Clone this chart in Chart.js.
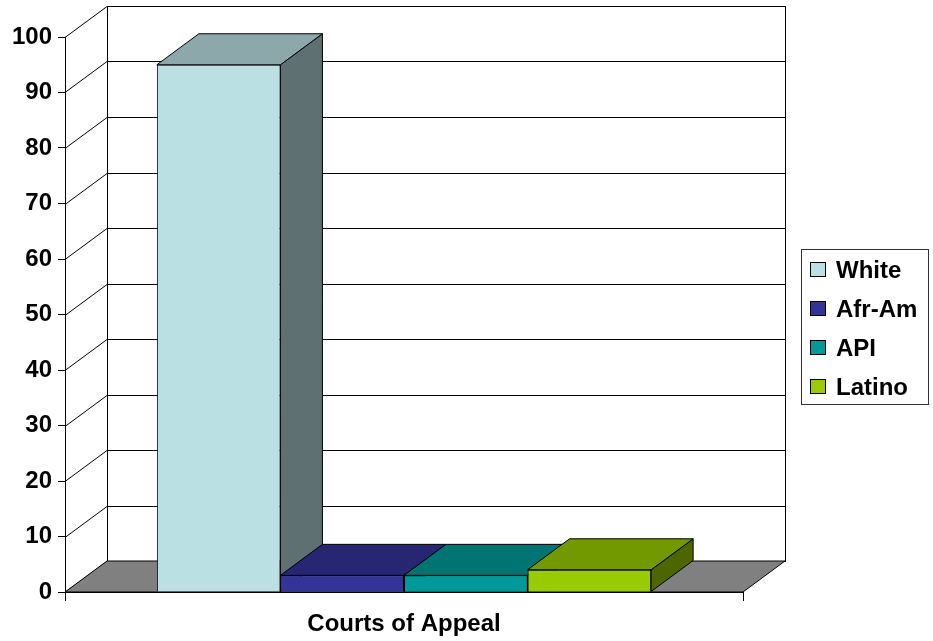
<!DOCTYPE html>
<html>
<head>
<meta charset="utf-8">
<script src="https://cdn.jsdelivr.net/npm/chart.js@4.4.1/dist/chart.umd.min.js"></script>
<style>
    html, body { margin: 0; padding: 0; background: #ffffff; }
    #wrap { width: 933px; height: 641px; }
</style>
</head>
<body>
<div id="wrap"><canvas id="courtChart" width="933" height="641"></canvas></div>
<script>
    // data (percent of judges)
    const categories = ['Courts of Appeal'];
    const seriesNames = ['White', 'Afr-Am', 'API', 'Latino'];
    const seriesValues = [95, 3, 3, 4];
    const seriesColors = ['#BBE0E3', '#333399', '#009999', '#99CC00'];
    const yMin = 0, yMax = 100, yStep = 10;

    const FONT = 'Arial, "Liberation Sans", sans-serif';
    const DEPTH_X = 42, DEPTH_Y = 31;

    function shade(hex, f) {
        const n = parseInt(hex.slice(1), 16);
        const r = Math.round(((n >> 16) & 255) * f), g = Math.round(((n >> 8) & 255) * f), b = Math.round((n & 255) * f);
        return 'rgb(' + r + ',' + g + ',' + b + ')';
    }

    function poly(ctx, pts, fill) {
        ctx.beginPath();
        ctx.moveTo(pts[0][0], pts[0][1]);
        for (let i = 1; i < pts.length; i++) ctx.lineTo(pts[i][0], pts[i][1]);
        ctx.closePath();
        if (fill) { ctx.fillStyle = fill; ctx.fill(); }
        ctx.stroke();
    }

    // walls, floor and the top/side faces of the bars
    const box3d = {
        id: 'box3d',
        beforeDatasetsDraw(chart) {
            const ctx = chart.ctx, a = chart.chartArea, y = chart.scales.y;
            const L = a.left, R = a.right, B = a.bottom;
            const topBack = y.getPixelForValue(yMax) - DEPTH_Y;
            ctx.save();
            ctx.lineWidth = 1;
            ctx.strokeStyle = '#000';

            // back wall
            ctx.fillStyle = '#fff';
            ctx.fillRect(L + DEPTH_X, topBack, R - L, B - DEPTH_Y - topBack);
            ctx.strokeRect(L + DEPTH_X + 0.5, topBack + 0.5, R - L, B - DEPTH_Y - topBack);

            // grid lines on back wall + left wall
            y.ticks.forEach(t => {
                const py = Math.round(y.getPixelForValue(t.value)) + 0.5;
                ctx.beginPath();
                ctx.moveTo(L + DEPTH_X, py - DEPTH_Y);
                ctx.lineTo(R + DEPTH_X, py - DEPTH_Y);
                ctx.moveTo(L, py);
                ctx.lineTo(L + DEPTH_X, py - DEPTH_Y);
                ctx.stroke();
            });

            // floor
            poly(ctx, [[L, B], [R, B], [R + DEPTH_X, B - DEPTH_Y], [L + DEPTH_X, B - DEPTH_Y]], '#808080');

            // bars: side + top faces, left to right
            chart.data.datasets.forEach((ds, i) => {
                const meta = chart.getDatasetMeta(i);
                meta.data.forEach(el => {
                    const l = el.x - el.width / 2, r = el.x + el.width / 2, t = el.y, b = el.base;
                    poly(ctx, [[r, t], [r + DEPTH_X, t - DEPTH_Y], [r + DEPTH_X, b - DEPTH_Y], [r, b]], shade(ds.backgroundColor, 0.5));
                    poly(ctx, [[l, t], [r, t], [r + DEPTH_X, t - DEPTH_Y], [l + DEPTH_X, t - DEPTH_Y]], shade(ds.backgroundColor, 0.75));
                });
            });
            ctx.restore();
        },
        afterDraw(chart) {
            // legend box at right
            const ctx = chart.ctx;
            ctx.save();
            ctx.lineWidth = 1;
            ctx.strokeStyle = '#333';
            ctx.strokeRect(801.5, 249.5, 127, 155);
            ctx.font = 'bold 24px ' + FONT;
            ctx.textBaseline = 'middle';
            chart.data.datasets.forEach((ds, i) => {
                const cy = 270 + i * 39;
                ctx.fillStyle = ds.backgroundColor;
                ctx.fillRect(810, cy - 8, 16, 15);
                ctx.strokeStyle = '#000';
                ctx.strokeRect(810.5, cy - 7.5, 15, 14);
                ctx.fillStyle = '#000';
                ctx.fillText(ds.label, 836, cy + 1);
            });
            ctx.restore();
        }
    };

    const datasets = seriesNames.map((name, i) => ({
        label: name,
        data: [seriesValues[i]],
        backgroundColor: seriesColors[i],
        borderColor: '#000',
        borderWidth: 1,
        barPercentage: 1.0,
        categoryPercentage: 0.729
    }));

    new Chart(document.getElementById('courtChart'), {
        type: 'bar',
        data: { labels: categories, datasets: datasets },
        options: {
            responsive: false,
            animation: false,
            layout: { padding: { top: 37, right: 190, bottom: 0, left: 0 } },
            plugins: { legend: { display: false }, tooltip: { enabled: false } },
            scales: {
                x: {
                    afterFit(scale) { scale.height = 49; },
                    grid: { drawOnChartArea: false, color: '#000', tickLength: 9, offset: true },
                    border: { display: true, color: '#000', width: 1 },
                    ticks: { color: '#000', padding: 9, font: { family: FONT, size: 24, weight: 'bold' } }
                },
                y: {
                    min: yMin, max: yMax,
                    afterFit(scale) { scale.width = 65; },
                    grid: { drawOnChartArea: false, color: '#000', tickLength: 7 },
                    border: { display: true, color: '#000', width: 1 },
                    ticks: { stepSize: yStep, color: '#000', padding: 6, font: { family: FONT, size: 24, weight: 'bold' } }
                }
            }
        },
        plugins: [box3d]
    });
</script>
</body>
</html>
